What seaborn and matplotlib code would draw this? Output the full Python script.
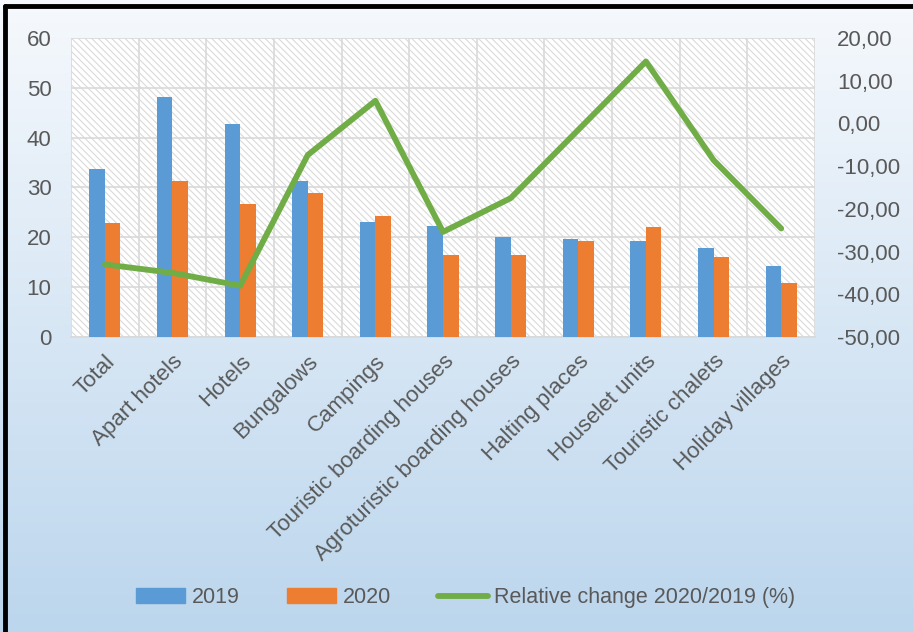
import matplotlib
matplotlib.use('Agg')
import matplotlib.pyplot as plt
import matplotlib.ticker as mticker
from matplotlib.patches import Rectangle, Patch
from matplotlib.lines import Line2D
import seaborn as sns
import numpy as np
import pandas as pd

# data
categories = ['Total', 'Apart hotels', 'Hotels', 'Bungalows', 'Campings',
              'Touristic boarding houses', 'Agroturistic boarding houses',
              'Halting places', 'Houselet units', 'Touristic chalets', 'Holiday villages']
val_2019 = [33.8, 48.2, 42.8, 31.3, 23.0, 22.3, 20.0, 19.6, 19.3, 17.9, 14.2]
val_2020 = [22.8, 31.3, 26.7, 28.9, 24.3, 16.4, 16.4, 19.3, 22.0, 16.1, 10.8]
rel_change = [-33.0, -35.0, -38.0, -7.4, 5.3, -25.4, -17.5, -1.5, 14.5, -8.6, -24.6]

sns.set_style('white')
plt.rcParams['font.family'] = ['Liberation Sans', 'DejaVu Sans']
plt.rcParams['hatch.color'] = '#dadada'
plt.rcParams['hatch.linewidth'] = 0.8

txt = '#595959'
grid_c = '#d9d9d9'
c19, c20, cline = '#5b9bd5', '#ed7d31', '#70ad47'

df = pd.DataFrame({'category': categories * 2,
                   'year': ['2019'] * len(categories) + ['2020'] * len(categories),
                   'value': val_2019 + val_2020})
df_line = pd.DataFrame({'x': np.arange(len(categories)), 'change': rel_change})

fig = plt.figure(figsize=(9.13, 6.32), dpi=100)

# gradient background
bg = fig.add_axes([0, 0, 1, 1], zorder=-10)
top = np.array([246, 249, 253]) / 255
bot = np.array([188, 214, 237]) / 255
t = np.linspace(0, 1, 256)[:, None]
grad = (top[None, :] * (1 - t) + bot[None, :] * t)[:, None, :]
bg.imshow(grad, aspect='auto', extent=[0, 1, 0, 1])
bg.set_axis_off()

# black frame (top and left visible)
fig.add_artist(Line2D([0.0055, 0.0055], [-0.05, 0.991], color='black', lw=3.5, transform=fig.transFigure))
fig.add_artist(Line2D([0.0055, 1.05], [0.991, 0.991], color='black', lw=3.5, transform=fig.transFigure))

ax = fig.add_axes([0.0778, 0.4668, 0.8149, 0.4731])
ax.patch.set_alpha(0)
ax.add_patch(Rectangle((0, 0), 1, 1, transform=ax.transAxes, facecolor='white',
                       edgecolor='#dadada', lw=0, hatch='\\\\\\\\\\', zorder=0))

sns.barplot(data=df, x='category', y='value', hue='year', palette=[c19, c20],
            width=0.46, gap=0, saturation=1, linewidth=0, ax=ax, zorder=3, legend=False)

ax.set_xlim(-0.5, len(categories) - 0.5)
ax.set_ylim(0, 60)
ax.yaxis.set_major_locator(mticker.MultipleLocator(10))
ax.set_xlabel('')
ax.set_ylabel('')
ax.xaxis.set_minor_locator(mticker.FixedLocator(np.arange(-0.5, len(categories), 1.0)))
ax.grid(axis='y', which='major', color=grid_c, lw=1.2, zorder=1)
ax.grid(axis='x', which='minor', color=grid_c, lw=1.2, zorder=1)
ax.set_axisbelow(True)
for s in ['top', 'right', 'left']:
    ax.spines[s].set_visible(False)
ax.spines['bottom'].set_color(grid_c)
ax.spines['bottom'].set_linewidth(1.2)
ax.tick_params(axis='x', which='major', length=0, pad=10)
ax.tick_params(axis='x', which='minor', length=6, color=grid_c, width=1.2, direction='out')
ax.tick_params(axis='y', length=0, labelsize=16, labelcolor=txt, pad=14)
ax.set_xticks(range(len(categories)))
ax.set_xticklabels(categories, rotation=45, ha='right', rotation_mode='anchor',
                   fontsize=16, color=txt)

ax2 = ax.twinx()
sns.lineplot(data=df_line, x='x', y='change', color=cline, lw=4.2, ax=ax2,
             solid_capstyle='round', solid_joinstyle='round', zorder=5)
ax2.set_ylim(-50, 20)
ax2.yaxis.set_major_locator(mticker.MultipleLocator(10))
ax2.yaxis.set_major_formatter(mticker.FuncFormatter(lambda v, p: f'{v:.2f}'.replace('.', ',')))
ax2.tick_params(axis='y', length=0, labelsize=16, labelcolor=txt, pad=16)
ax2.set_ylabel('')
for s in ax2.spines.values():
    s.set_visible(False)
ax2.set_xlim(-0.5, len(categories) - 0.5)

handles = [Patch(color=c19), Patch(color=c20), Line2D([], [], color=cline, lw=4.2, solid_capstyle='round')]
leg = fig.legend(handles, ['2019', '2020', 'Relative change 2020/2019 (%)'],
                 loc='center', bbox_to_anchor=(0.51, 0.054), ncol=3, frameon=False,
                 fontsize=15.5, handlelength=2.3, handletextpad=0.3, columnspacing=2.2)
for tx in leg.get_texts():
    tx.set_color(txt)

fig.savefig('out.png', dpi=100)
